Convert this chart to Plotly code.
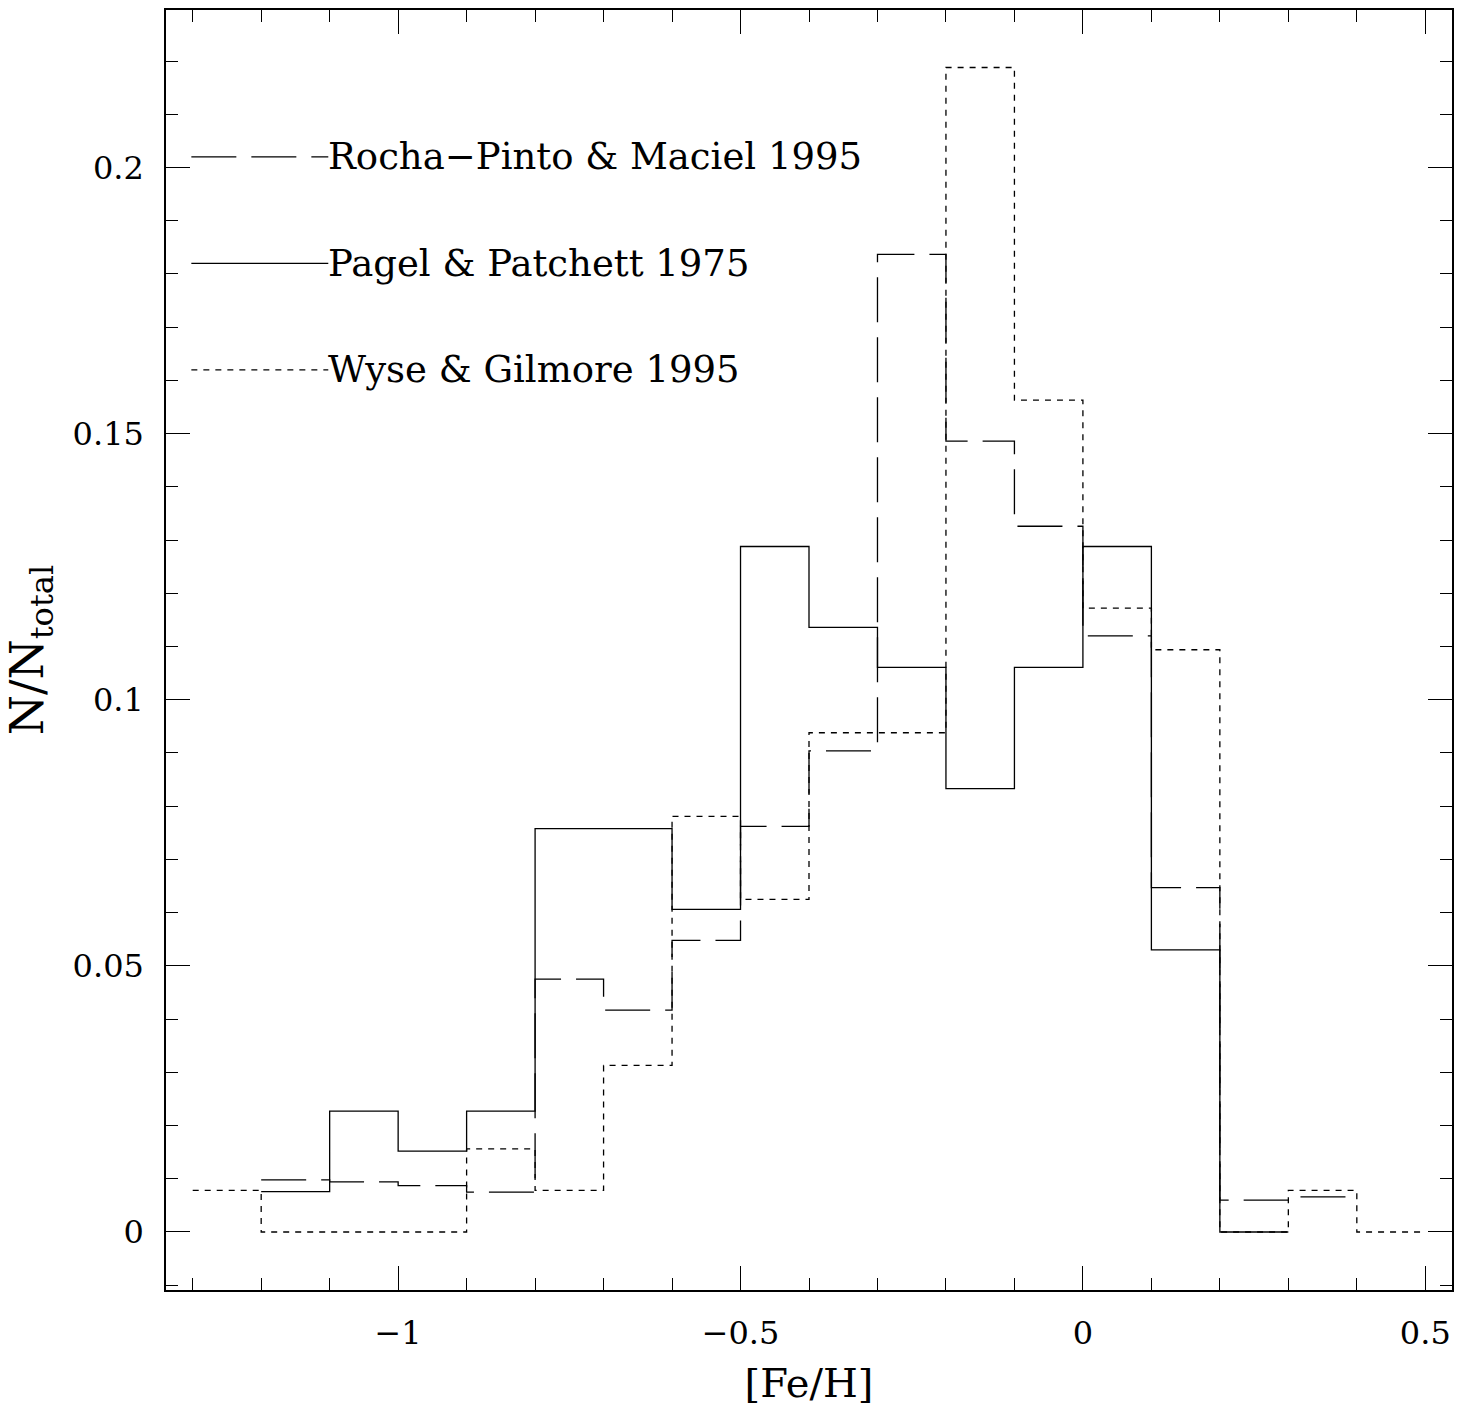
import plotly.graph_objects as go

# Metallicity bin edges ([Fe/H], width 0.1) and normalised counts per bin
rocha_edges = [-1.2, -1.1, -1.0, -0.9, -0.8, -0.7, -0.6, -0.5, -0.4, -0.3, -0.2, -0.1, 0.0, 0.1, 0.2, 0.3, 0.4]
rocha_vals = [0.0098, 0.0094, 0.0087, 0.0075, 0.0475, 0.0417, 0.0548, 0.0762, 0.0904, 0.1837,
              0.1486, 0.1326, 0.1120, 0.0647, 0.0060, 0.0066]

pagel_edges = [-1.2, -1.1, -1.0, -0.9, -0.8, -0.7, -0.6, -0.5, -0.4, -0.3, -0.2, -0.1, 0.0, 0.1, 0.2, 0.3]
pagel_vals = [0.0076, 0.0227, 0.0152, 0.0227, 0.0758, 0.0758, 0.0606, 0.1288, 0.1136, 0.1061,
              0.0833, 0.1061, 0.1288, 0.0530, 0.0]

wyse_edges = [-1.3, -1.2, -1.1, -1.0, -0.9, -0.8, -0.7, -0.6, -0.5, -0.4, -0.3, -0.2, -0.1, 0.0, 0.1, 0.2, 0.3, 0.4, 0.5]
wyse_vals = [0.0078, 0.0, 0.0, 0.0, 0.0156, 0.0078, 0.0313, 0.0781, 0.0625, 0.0938, 0.0938,
             0.2188, 0.1563, 0.1172, 0.1094, 0.0, 0.0078, 0.0]

series_names = ["Rocha\u2212Pinto & Maciel 1995", "Pagel & Patchett 1975", "Wyse & Gilmore 1995"]
series_dash = ["45px,15px", "solid", "6px,6px"]
legend_y = [0.202, 0.182, 0.162]
legend_x = [-1.302, -1.102]

FONT = "DejaVu Serif"
fig = go.Figure()

for edges, vals, name, dash in zip([rocha_edges, pagel_edges, wyse_edges],
                                   [rocha_vals, pagel_vals, wyse_vals],
                                   series_names, series_dash):
    fig.add_trace(go.Scatter(
        x=edges, y=vals + [vals[-1]], mode="lines", line_shape="hv",
        line=dict(color="black", width=1.3, dash=dash), name=name, showlegend=False))

# In-plot key: line sample followed by its label
for name, dash, yk in zip(series_names, series_dash, legend_y):
    fig.add_trace(go.Scatter(
        x=legend_x, y=[yk, yk], mode="lines",
        line=dict(color="black", width=1.3, dash=dash), showlegend=False))
    fig.add_annotation(x=legend_x[1], y=yk, text=name, showarrow=False,
                       xanchor="left", yanchor="middle", xshift=-2,
                       font=dict(family=FONT, size=37, color="black"))

axis_common = dict(
    showline=True, linecolor="black", linewidth=1.5, mirror="allticks",
    ticks="inside", ticklen=24, tickwidth=1.2, tickcolor="black",
    showgrid=False, zeroline=False,
    tickfont=dict(family=FONT, size=32, color="black"),
)

fig.update_xaxes(
    range=[-1.339, 0.539], dtick=0.5, tick0=0,
    minor=dict(ticks="inside", ticklen=12, dtick=0.1, tick0=0, tickcolor="black", tickwidth=1.2, showgrid=False),
    title=dict(text="[Fe/H]", font=dict(family=FONT, size=40, color="black"), standoff=18),
    ticklabelstandoff=14,
    **axis_common)
fig.update_yaxes(
    range=[-0.0109, 0.2296], dtick=0.05, tick0=0,
    minor=dict(ticks="inside", ticklen=12, dtick=0.01, tick0=0, tickcolor="black", tickwidth=1.2, showgrid=False),
    title=dict(text="N/N<sub>total</sub>", font=dict(family=FONT, size=46, color="black"), standoff=14),
    ticklabelstandoff=14,
    **axis_common)

fig.update_layout(
    width=1476, height=1409,
    margin=dict(l=166, r=24, t=8, b=119),
    paper_bgcolor="white", plot_bgcolor="white",
    showlegend=False,
)

fig.write_html("out.html")
